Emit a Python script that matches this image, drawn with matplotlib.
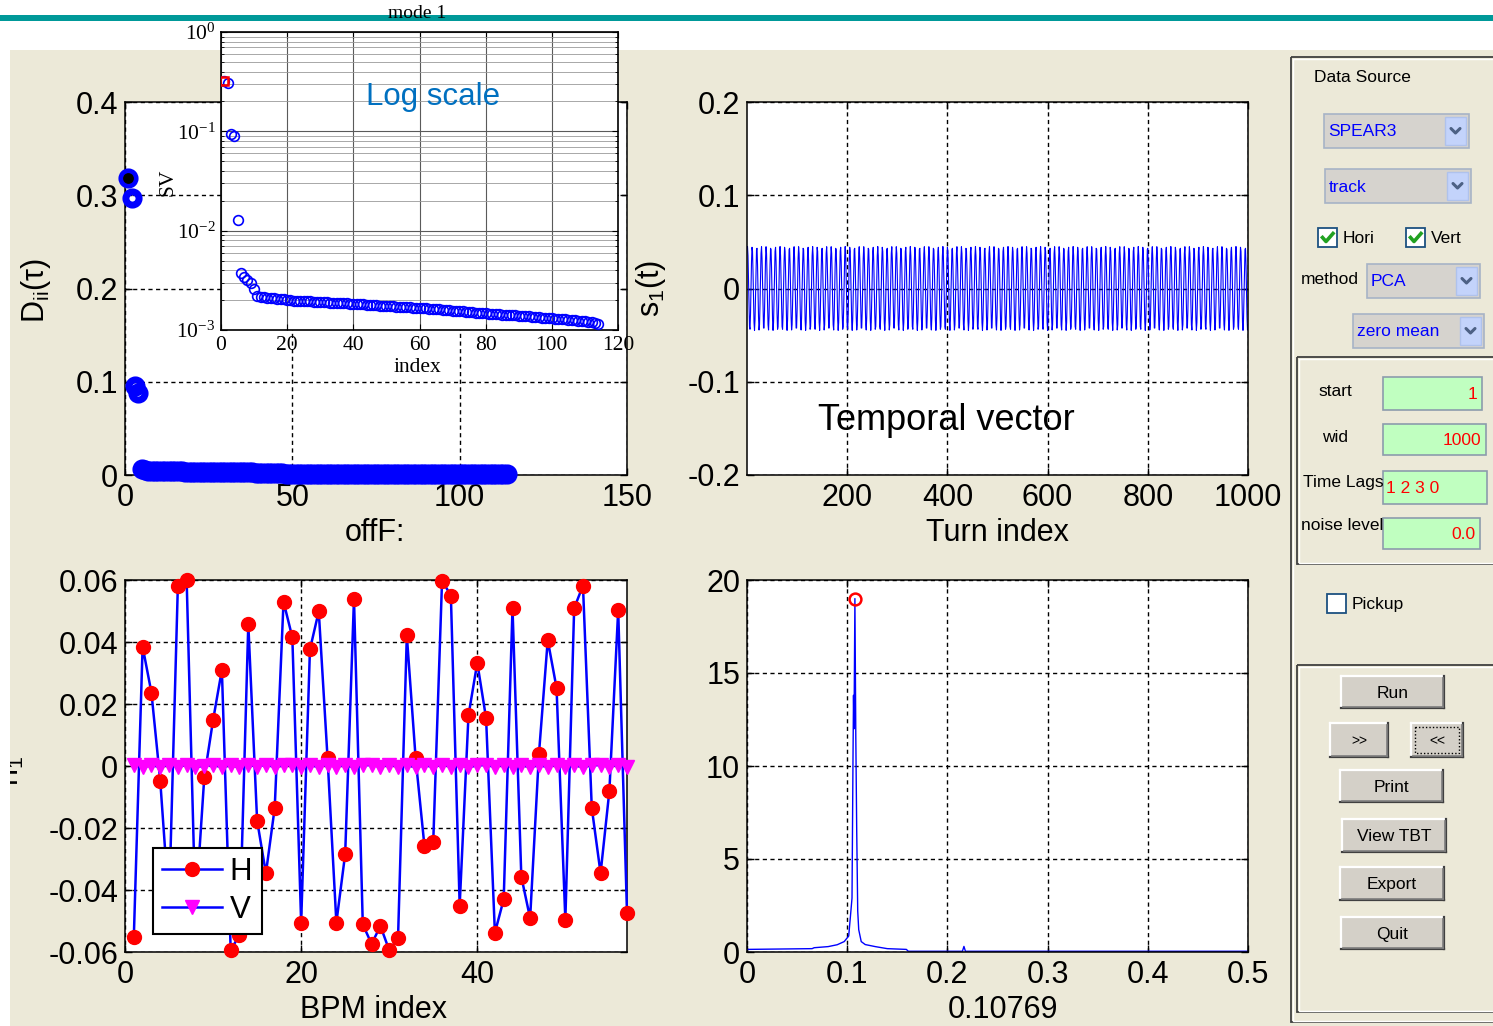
import numpy as np
import matplotlib
matplotlib.use("Agg")
import matplotlib.pyplot as plt
from matplotlib.patches import Rectangle
from matplotlib.ticker import LogLocator, NullFormatter

# ---------------------------------------------------------------- data
mode_index = np.arange(1, 115)

# singular values (units of 1e-3)
sv_milli = [320, 309, 95, 90, 12.8, 3.78, 3.39, 3.18, 2.95, 2.57, 2.20,
            2.16, 2.14, 2.12, 2.10, 2.09, 2.07, 2.05, 2.03, 2.00,
            1.99, 1.98, 1.98, 1.97, 1.96, 1.95, 1.94, 1.93, 1.93, 1.92,
            1.91, 1.90, 1.89, 1.89, 1.88, 1.87, 1.86, 1.85, 1.84, 1.83,
            1.82, 1.81, 1.81, 1.80, 1.79, 1.78, 1.77, 1.76, 1.76, 1.75,
            1.74, 1.73, 1.72, 1.72, 1.71, 1.70, 1.69, 1.68, 1.68, 1.67,
            1.66, 1.65, 1.64, 1.63, 1.62, 1.61, 1.60, 1.59, 1.58, 1.57,
            1.56, 1.55, 1.54, 1.53, 1.52, 1.51, 1.50, 1.49, 1.48, 1.47,
            1.46, 1.45, 1.45, 1.44, 1.43, 1.42, 1.41, 1.41, 1.40, 1.39,
            1.38, 1.37, 1.37, 1.36, 1.35, 1.34, 1.33, 1.33, 1.32, 1.31,
            1.30, 1.30, 1.29, 1.28, 1.27, 1.26, 1.25, 1.24, 1.23, 1.22,
            1.20, 1.19, 1.17, 1.15]

# diagonal of the lagged covariance, D_ii(tau) (units of 1e-3)
dii_milli = [318, 297, 95, 88,
             6.0, 5.0, 4.6, 4.4, 4.2, 4.1, 4.0, 4.0, 3.9, 3.9,
             3.8, 3.8, 3.8, 3.7, 3.7, 3.7, 3.6, 3.6, 3.6, 3.5,
             3.5, 3.5, 3.4, 3.4, 3.4, 3.3, 3.3, 3.3, 3.2, 3.2,
             3.2, 3.1, 3.1, 3.0, 2.4, 1.9, 1.8, 1.8, 1.8, 1.7,
             1.7, 1.7, 1.7, 1.6, 1.6, 1.6, 1.6, 1.6, 1.5, 1.5,
             1.5, 1.5, 1.5, 1.5, 1.4, 1.4, 1.4, 1.4, 1.4, 1.4,
             1.3, 1.3, 1.3, 1.3, 1.3, 1.3, 1.3, 1.2, 1.2, 1.2,
             1.2, 1.2, 1.2, 1.2, 1.1, 1.1, 1.1, 1.1, 1.1, 1.1,
             1.1, 1.0, 1.0, 1.0, 1.0, 1.0, 1.0, 1.0, 0.9, 0.9,
             0.9, 0.9, 0.9, 0.9, 0.9, 0.9, 0.8, 0.8, 0.8, 0.8,
             0.8, 0.8, 0.8, 0.8, 0.7, 0.7, 0.7, 0.7, 0.7, 0.7]

# temporal vector s_1(t): one 65-turn cycle, repeated over the record
s1_cycle = [0.0450, 0.0351, 0.0097, -0.0199, -0.0408, -0.0437, -0.0273, 0.0011, 0.0290, 0.0442,
            0.0398, 0.0180, -0.0118, -0.0364, -0.0449, -0.0337, -0.0076, 0.0219, 0.0417, 0.0431,
            0.0256, -0.0033, -0.0307, -0.0445, -0.0388, -0.0160, 0.0139, 0.0376, 0.0448, 0.0322,
            0.0054, -0.0237, -0.0424, -0.0424, -0.0237, 0.0054, 0.0322, 0.0448, 0.0376, 0.0139,
            -0.0160, -0.0388, -0.0445, -0.0307, -0.0033, 0.0256, 0.0431, 0.0417, 0.0219, -0.0076,
            -0.0337, -0.0449, -0.0364, -0.0118, 0.0180, 0.0398, 0.0442, 0.0290, 0.0011, -0.0273,
            -0.0437, -0.0408, -0.0199, 0.0097, 0.0351]
n_turns = 1000

# spatial vector at the 57 BPMs
bpm_index = np.arange(1, 58)
h_values = [-0.0553, 0.0385, 0.0237, -0.0047, -0.0450, 0.0580, 0.0600, -0.0470, -0.0037, 0.0148,
            0.0310, -0.0594, -0.0545, 0.0458, -0.0176, -0.0346, -0.0135, 0.0530, 0.0415, -0.0505,
            0.0376, 0.0499, 0.0025, -0.0505, -0.0284, 0.0540, -0.0511, -0.0574, -0.0516, -0.0594,
            -0.0556, 0.0421, 0.0025, -0.0258, -0.0244, 0.0598, 0.0550, -0.0450, 0.0163, 0.0333,
            0.0154, -0.0538, -0.0430, 0.0509, -0.0357, -0.0491, 0.0038, 0.0406, 0.0252, -0.0497,
            0.0509, 0.0582, -0.0135, -0.0346, -0.0080, 0.0503, -0.0475]
v_values = [0.0003, -0.0004, 0.0002, -0.0003, 0.0004, -0.0002, 0.0003, -0.0004, 0.0001, 0.0003,
            -0.0003, 0.0002, -0.0004, 0.0003, -0.0002, 0.0004, -0.0003, 0.0002, 0.0003, -0.0004,
            0.0002, -0.0003, 0.0004, -0.0002, 0.0003, -0.0004, 0.0002, 0.0003, -0.0003, 0.0004,
            -0.0002, 0.0003, -0.0004, 0.0002, -0.0003, 0.0004, -0.0002, 0.0003, -0.0004, 0.0002,
            0.0003, -0.0003, 0.0004, -0.0002, 0.0003, -0.0004, 0.0002, -0.0003, 0.0004, -0.0002,
            0.0003, -0.0004, 0.0002, 0.0003, -0.0003, 0.0004, -0.0002]

# amplitude spectrum of s_1(t)
tune = 0.10769
freq = [0.0, 0.065, 0.067, 0.081, 0.090, 0.097, 0.1015, 0.1032, 0.1048, 0.1058, 0.1063,
        0.1068, 0.10769, 0.1086, 0.1095, 0.1105, 0.1115, 0.114, 0.118, 0.128, 0.140,
        0.159, 0.161, 0.215, 0.2165, 0.218, 0.5]
amp = [0.14, 0.18, 0.23, 0.29, 0.39, 0.56, 0.86, 1.9, 2.9, 10.5, 13.8,
       12.0, 19.0, 11.5, 6.5, 2.2, 1.2, 0.56, 0.40, 0.29, 0.18,
       0.14, 0.04, 0.04, 0.30, 0.04, 0.04]

# tick labels
dii_yticks = [0, 0.1, 0.2, 0.3, 0.4]
dii_yticklabels = ["0", "0.1", "0.2", "0.3", "0.4"]
dii_xticks = [0, 50, 100, 150]
sv_xticks = [0, 20, 40, 60, 80, 100, 120]
sv_yticks = [1e-3, 1e-2, 1e-1, 1]
sv_yticklabels = [r"$\mathregular{10^{-3}}$", r"$\mathregular{10^{-2}}$",
                  r"$\mathregular{10^{-1}}$", r"$\mathregular{10^{0}}$"]
turn_xticks = [200, 400, 600, 800, 1000]
s1_yticks = [-0.2, -0.1, 0, 0.1, 0.2]
s1_yticklabels = ["-0.2", "-0.1", "0", "0.1", "0.2"]
bpm_xticks = [0, 20, 40]
bpm_yticks = [-0.06, -0.04, -0.02, 0, 0.02, 0.04, 0.06]
bpm_yticklabels = ["-0.06", "-0.04", "-0.02", "0", "0.02", "0.04", "0.06"]
fft_xticks = [0, 0.1, 0.2, 0.3, 0.4, 0.5]
fft_xticklabels = ["0", "0.1", "0.2", "0.3", "0.4", "0.5"]
fft_yticks = [0, 5, 10, 15, 20]

# ---------------------------------------------------------------- figure
W, H = 1493, 1026
SANS = "Liberation Sans"
SERIF = "Liberation Serif"
plt.rcParams["font.family"] = [SANS, "DejaVu Sans"]
plt.rcParams["mathtext.default"] = "regular"

fig = plt.figure(figsize=(W / 100, H / 100), dpi=100)
fig.patch.set_facecolor("white")


def px_rect(x0, y0, x1, y1):
    return [x0 / W, 1 - y1 / H, (x1 - x0) / W, (y1 - y0) / H]


def pixel_axes(zorder):
    a = fig.add_axes([0, 0, 1, 1], zorder=zorder)
    a.set_xlim(0, W)
    a.set_ylim(H, 0)
    a.axis("off")
    a.patch.set_alpha(0)
    return a


bg = pixel_axes(-10)
top = pixel_axes(30)

BEIGE = "#ECE9D8"
bg.add_patch(Rectangle((10, 50), W - 10, H - 50, fc=BEIGE, ec="none", zorder=0))
bg.add_patch(Rectangle((0, 15), W, 5.5, fc="#009999", ec="none", zorder=0))

GRID = dict(color="black", lw=1.0, ls=(0, (3, 2.5)))
TICKFS = 22


def matlab_style(ax, pad_x=6, pad_y=5):
    for s in ax.spines.values():
        s.set_linewidth(1.1)
        s.set_color("black")
    ax.tick_params(direction="in", length=5, width=1, top=True, right=True,
                   labelsize=TICKFS, colors="black")
    ax.tick_params(axis="x", pad=pad_x)
    ax.tick_params(axis="y", pad=pad_y)
    ax.set_facecolor("white")


# ---- D_ii(tau) versus mode
ax1 = fig.add_axes(px_rect(125, 102, 627, 475), zorder=1)
dii = np.array(dii_milli) * 1e-3
ax1.plot(mode_index, dii, "o", ms=9.5, mfc="none", mec="blue", mew=5, clip_on=False, zorder=3)
ax1.plot(mode_index[:1], dii[:1], "o", ms=9, mfc="black", mec="blue", mew=1.2, clip_on=False, zorder=4)
ax1.set_xlim(0, 150)
ax1.set_ylim(0, 0.4)
ax1.set_xticks(dii_xticks)
ax1.set_yticks(dii_yticks)
ax1.set_yticklabels(dii_yticklabels)
ax1.grid(True, **GRID)
matlab_style(ax1)

# ---- singular values, log scale
axin = fig.add_axes(px_rect(221, 32, 618, 330), zorder=5)
sv = np.array(sv_milli) * 1e-3
axin.set_yscale("log")
axin.plot(mode_index, sv, "o", ms=7, mfc="none", mec="blue", mew=1.2, zorder=3)
axin.plot(mode_index[:1], sv[:1], "s", ms=6, mfc="none", mec="red", mew=1.8, zorder=4)
axin.set_xlim(0, 120)
axin.set_ylim(1e-3, 1)
axin.set_xticks(sv_xticks)
axin.set_xticklabels([str(t) for t in sv_xticks], fontfamily=SERIF, fontsize=15.5)
axin.set_yticks(sv_yticks)
axin.set_yticklabels(sv_yticklabels, fontfamily=SERIF, fontsize=15.5)
axin.yaxis.set_minor_locator(LogLocator(base=10, subs=np.arange(2, 10)))
axin.yaxis.set_minor_formatter(NullFormatter())
axin.grid(True, which="major", axis="both", color="#5a5a5a", lw=0.8, ls="-")
axin.grid(True, which="minor", axis="y", color="#9a9a9a", lw=0.6, ls="-")
for s in axin.spines.values():
    s.set_linewidth(1.2)
axin.tick_params(which="both", direction="in", top=True, right=True, colors="black")
axin.tick_params(which="major", length=4, pad=4)
axin.tick_params(which="minor", length=2.5)
axin.set_axisbelow(True)

# ---- temporal vector
ax2 = fig.add_axes(px_rect(747, 102, 1248, 475), zorder=1)
turns = np.arange(1, n_turns + 1)
s1 = np.tile(s1_cycle, n_turns // len(s1_cycle) + 1)[:n_turns]
ax2.plot(turns, s1, color="blue", lw=0.8)
ax2.set_xlim(0, 1000)
ax2.set_ylim(-0.2, 0.2)
ax2.set_xticks(turn_xticks)
ax2.set_yticks(s1_yticks)
ax2.set_yticklabels(s1_yticklabels)
ax2.grid(True, **GRID)
matlab_style(ax2)

# ---- spatial vector
ax3 = fig.add_axes(px_rect(125, 580, 627, 952), zorder=1)
ax3.plot(bpm_index, h_values, "-o", color="blue", lw=1.8, mfc="red", mec="red", ms=10,
         label="H", clip_on=False, zorder=3)
ax3.plot(bpm_index, v_values, "-v", color="blue", lw=1.8, mfc="magenta", mec="magenta", ms=10,
         label="V", clip_on=False, zorder=4)
ax3.set_xlim(0, 57)
ax3.set_ylim(-0.06, 0.06)
ax3.set_xticks(bpm_xticks)
ax3.set_yticks(bpm_yticks)
ax3.set_yticklabels(bpm_yticklabels)
ax3.grid(True, **GRID)
matlab_style(ax3)
leg = ax3.legend(loc="lower left", bbox_to_anchor=(0.056, 0.048), borderaxespad=0,
                 fontsize=22.5, frameon=True, fancybox=False, edgecolor="black", framealpha=1,
                 handlelength=1.9, handletextpad=0.25, borderpad=0.3, labelspacing=0.25)
leg.get_frame().set_linewidth(1.5)
leg.set_zorder(10)

# ---- spectrum
ax4 = fig.add_axes(px_rect(747, 580, 1248, 952), zorder=1)
ax4.plot(freq, amp, color="blue", lw=1.0)
peak = int(np.argmax(amp))
ax4.plot([freq[peak]], [amp[peak]], "o", ms=8.5, mfc="none", mec="red", mew=1.8)
ax4.set_xlim(0, 0.5)
ax4.set_ylim(0, 20)
ax4.set_xticks(fft_xticks)
ax4.set_xticklabels(fft_xticklabels)
ax4.set_yticks(fft_yticks)
ax4.grid(True, **GRID)
matlab_style(ax4)

# ---- axis labels and annotations
LAB = 22
bg.text(36, 290, r"D$_{ii}$($\tau$)", rotation=90, ha="center", va="center", fontsize=LAB, zorder=1)
bg.text(375, 533, "offF:", ha="center", va="center", fontsize=LAB, zorder=1)
bg.text(651, 288, r"s$_1$(t)", rotation=90, ha="center", va="center", fontsize=LAB, zorder=1)
bg.text(997, 533, "Turn index", ha="center", va="center", fontsize=LAB, zorder=1)
bg.text(19, 786, r"n$_1$", rotation=90, rotation_mode="anchor", ha="left", va="baseline",
        fontsize=LAB, zorder=1)
bg.add_patch(Rectangle((0, 50), 10, H - 50, fc="white", ec="none", zorder=2))
bg.text(374, 1010, "BPM index", ha="center", va="center", fontsize=LAB, zorder=1)
bg.text(1003, 1010, f"{tune:.5f}", ha="center", va="center", fontsize=LAB, zorder=1)

top.text(417, 13, "mode 1", ha="center", va="center", fontsize=14, fontfamily=SERIF)
top.text(168, 182, "SV", rotation=90, ha="center", va="center", fontsize=15.5, fontfamily=SERIF)
top.text(417, 367, "index", ha="center", va="center", fontsize=15.5, fontfamily=SERIF)
top.text(433, 97, "Log scale", ha="center", va="center", fontsize=22.5, color="#0070C0")
top.text(946, 421, "Temporal vector", ha="center", va="center", fontsize=26, color="black")

# ---------------------------------------------------------------- control panel
PFS = 12.5
BTN = "#D4D0C8"


def etched_box(x0, y0, x1, y1):
    bg.add_patch(Rectangle((x0, y0), x1 - x0, y1 - y0, fc="none", ec="#404040", lw=1.3, zorder=3))
    bg.add_patch(Rectangle((x0 + 1.5, y0 + 1.5), x1 - x0, y1 - y0 - 3, fc="none", ec="white",
                           lw=1.0, zorder=3))


def label(x, y, s, **kw):
    bg.text(x, y, s, ha=kw.pop("ha", "left"), va="center", fontsize=kw.pop("fontsize", PFS),
            color=kw.pop("color", "black"), zorder=6, **kw)


def popup(x0, y0, x1, y1, s):
    bg.add_patch(Rectangle((x0, y0), x1 - x0, y1 - y0, fc="#D6D3CE", ec="#A7B3C6", lw=1.2, zorder=4))
    bx0, bx1 = x1 - 24, x1 - 3
    bg.add_patch(Rectangle((bx0, y0 + 3), bx1 - bx0, y1 - y0 - 6, fc="#C3D3FB", ec="#AFC2EC",
                           lw=1.0, zorder=5))
    cx, cy = (bx0 + bx1) / 2, (y0 + y1) / 2
    bg.plot([cx - 4.5, cx, cx + 4.5], [cy - 2.5, cy + 2, cy - 2.5], color="#4D6185", lw=2.2,
            zorder=6, solid_capstyle="round")
    label(x0 + 4, (y0 + y1) / 2 + 1, s, color="blue")


def edit(x0, y0, x1, y1, s, align="right"):
    bg.add_patch(Rectangle((x0, y0), x1 - x0, y1 - y0, fc="#C0FFC0", ec="#8C9CAC", lw=1.2, zorder=4))
    if align == "right":
        label(x1 - 5, (y0 + y1) / 2 + 1, s, ha="right", color="red")
    else:
        label(x0 + 3, (y0 + y1) / 2 + 1, s, color="red")


def checkbox(x0, y0, checked, s):
    size = 19
    bg.add_patch(Rectangle((x0, y0), size, size, fc="white", ec="#1C5180", lw=1.3, zorder=4))
    if checked:
        bg.plot([x0 + 4.5, x0 + 8, x0 + 15], [y0 + 9.5, y0 + 13.5, y0 + 5.5], color="#21A121",
                lw=2.6, zorder=5)
    label(x0 + size + 6, y0 + size / 2 + 1, s)


def button(x0, y0, x1, y1, s, fs=PFS, focus=False):
    bg.add_patch(Rectangle((x0, y0), x1 - x0, y1 - y0, fc=BTN, ec="none", zorder=4))
    bg.plot([x0, x1], [y0, y0], color="white", lw=1.6, zorder=5)
    bg.plot([x0, x0], [y0, y1], color="white", lw=1.6, zorder=5)
    bg.plot([x0, x1], [y1, y1], color="#404040", lw=1.6, zorder=5)
    bg.plot([x1, x1], [y0, y1], color="#404040", lw=1.6, zorder=5)
    bg.plot([x0 + 1.5, x1 - 1.5], [y1 - 1.5, y1 - 1.5], color="#808080", lw=1.2, zorder=5)
    bg.plot([x1 - 1.5, x1 - 1.5], [y0 + 1.5, y1 - 1.5], color="#808080", lw=1.2, zorder=5)
    if focus:
        bg.add_patch(Rectangle((x0 + 4, y0 + 4), x1 - x0 - 8, y1 - y0 - 8, fc="none", ec="black",
                               lw=1.0, ls=(0, (1, 1.5)), zorder=5))
    label((x0 + x1) / 2, (y0 + y1) / 2 + 1, s, ha="center", fontsize=fs)


etched_box(1291, 57, 1505, 1022)
etched_box(1297, 357, 1505, 564)
etched_box(1297, 665, 1505, 1012)

label(1314, 77, "Data Source")
popup(1324, 114, 1469, 148, "SPEAR3")
popup(1325, 169, 1471, 203, "track")
checkbox(1318, 228, True, "Hori")
checkbox(1406, 228, True, "Vert")
label(1301, 279, "method")
popup(1367, 264, 1480, 298, "PCA")
popup(1353, 314, 1484, 348, "zero mean")

label(1318, 392, "start")
edit(1383, 377, 1482, 410, "1")
label(1322, 437, "wid")
edit(1383, 424, 1486, 455, "1000")
label(1303, 483, "Time Lags")
edit(1383, 471, 1487, 504, "1 2 3 0", align="left")
label(1301, 526, "noise level")
edit(1383, 518, 1480, 549, "0.0")

checkbox(1327, 594, False, "Pickup")

button(1341, 676, 1444, 708, "Run")
button(1330, 723, 1388, 757, ">>", fs=10)
button(1411, 723, 1463, 757, "<<", fs=10, focus=True)
button(1340, 770, 1443, 802, "Print")
button(1342, 819, 1446, 852, "View TBT")
button(1340, 867, 1444, 900, "Export")
button(1341, 917, 1444, 949, "Quit")

fig.savefig("out.png", dpi=100, facecolor=fig.get_facecolor())
